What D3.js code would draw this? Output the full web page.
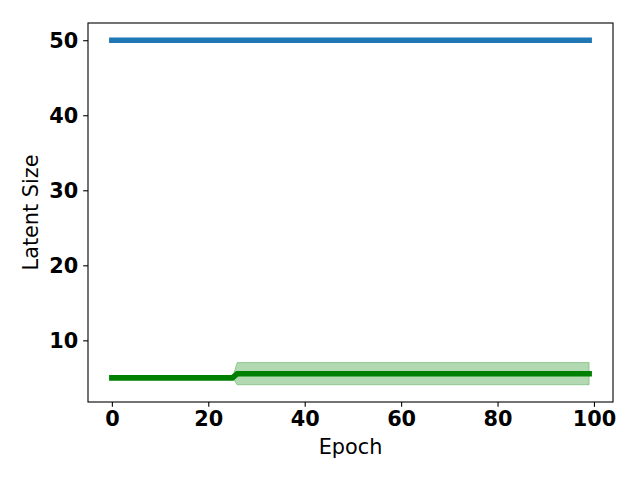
<!DOCTYPE html>
<html>
<head>
<meta charset="utf-8">
<script src="https://cdn.jsdelivr.net/npm/d3@7"></script>
<style>
  html, body { margin: 0; padding: 0; background: #fff; }
  svg { display: block; }
</style>
</head>
<body>
<script>
// ---- Data ----
const epochs = [
  0,1,2,3,4,5,6,7,8,9,
  10,11,12,13,14,15,16,17,18,19,
  20,21,22,23,24,25,26,27,28,29,
  30,31,32,33,34,35,36,37,38,39,
  40,41,42,43,44,45,46,47,48,49,
  50,51,52,53,54,55,56,57,58,59,
  60,61,62,63,64,65,66,67,68,69,
  70,71,72,73,74,75,76,77,78,79,
  80,81,82,83,84,85,86,87,88,89,
  90,91,92,93,94,95,96,97,98,99
];
const blueSize = [
  50,50,50,50,50,50,50,50,50,50,
  50,50,50,50,50,50,50,50,50,50,
  50,50,50,50,50,50,50,50,50,50,
  50,50,50,50,50,50,50,50,50,50,
  50,50,50,50,50,50,50,50,50,50,
  50,50,50,50,50,50,50,50,50,50,
  50,50,50,50,50,50,50,50,50,50,
  50,50,50,50,50,50,50,50,50,50,
  50,50,50,50,50,50,50,50,50,50,
  50,50,50,50,50,50,50,50,50,50
];
const greenMean = [
  5,5,5,5,5,5,5,5,5,5,
  5,5,5,5,5,5,5,5,5,5,
  5,5,5,5,5,5,5.56,5.56,5.56,5.56,
  5.56,5.56,5.56,5.56,5.56,5.56,5.56,5.56,5.56,5.56,
  5.56,5.56,5.56,5.56,5.56,5.56,5.56,5.56,5.56,5.56,
  5.56,5.56,5.56,5.56,5.56,5.56,5.56,5.56,5.56,5.56,
  5.56,5.56,5.56,5.56,5.56,5.56,5.56,5.56,5.56,5.56,
  5.56,5.56,5.56,5.56,5.56,5.56,5.56,5.56,5.56,5.56,
  5.56,5.56,5.56,5.56,5.56,5.56,5.56,5.56,5.56,5.56,
  5.56,5.56,5.56,5.56,5.56,5.56,5.56,5.56,5.56,5.56
];
const greenLower = [
  5,5,5,5,5,5,5,5,5,5,
  5,5,5,5,5,5,5,5,5,5,
  5,5,5,5,5,5,4.08,4.08,4.08,4.08,
  4.08,4.08,4.08,4.08,4.08,4.08,4.08,4.08,4.08,4.08,
  4.08,4.08,4.08,4.08,4.08,4.08,4.08,4.08,4.08,4.08,
  4.08,4.08,4.08,4.08,4.08,4.08,4.08,4.08,4.08,4.08,
  4.08,4.08,4.08,4.08,4.08,4.08,4.08,4.08,4.08,4.08,
  4.08,4.08,4.08,4.08,4.08,4.08,4.08,4.08,4.08,4.08,
  4.08,4.08,4.08,4.08,4.08,4.08,4.08,4.08,4.08,4.08,
  4.08,4.08,4.08,4.08,4.08,4.08,4.08,4.08,4.08,4.08
];
const greenUpper = [
  5,5,5,5,5,5,5,5,5,5,
  5,5,5,5,5,5,5,5,5,5,
  5,5,5,5,5,5,7.04,7.04,7.04,7.04,
  7.04,7.04,7.04,7.04,7.04,7.04,7.04,7.04,7.04,7.04,
  7.04,7.04,7.04,7.04,7.04,7.04,7.04,7.04,7.04,7.04,
  7.04,7.04,7.04,7.04,7.04,7.04,7.04,7.04,7.04,7.04,
  7.04,7.04,7.04,7.04,7.04,7.04,7.04,7.04,7.04,7.04,
  7.04,7.04,7.04,7.04,7.04,7.04,7.04,7.04,7.04,7.04,
  7.04,7.04,7.04,7.04,7.04,7.04,7.04,7.04,7.04,7.04,
  7.04,7.04,7.04,7.04,7.04,7.04,7.04,7.04,7.04,7.04
];
const xTicks = [0, 20, 40, 60, 80, 100];
const yTicks = [10, 20, 30, 40, 50];
const xLabel = "Epoch";
const yLabel = "Latent Size";

// ---- Layout ----
const W = 640, H = 480;
const L = 88, R = 613, T = 23, B = 402;
const FONT = "'DejaVu Sans', sans-serif";

const svg = d3.select("body").append("svg").attr("width", W).attr("height", H);

// Matplotlib-like 5% margins
const xMin = d3.min(epochs), xMax = d3.max(epochs);
const xPad = (xMax - xMin) * 0.05;
const yMin = d3.min([d3.min(blueSize), d3.min(greenLower), d3.min(greenMean)]);
const yMax = d3.max([d3.max(blueSize), d3.max(greenUpper), d3.max(greenMean)]);
const yPad = (yMax - yMin) * 0.05;

const x = d3.scaleLinear().domain([xMin - xPad, xMax + xPad]).range([L, R]);
const y = d3.scaleLinear().domain([yMin - yPad, yMax + yPad]).range([B, T]);

const plot = svg.append("g");

// blue line
const lineBlue = d3.line().x((d, i) => x(epochs[i])).y(d => y(d));
plot.append("path")
  .datum(blueSize)
  .attr("d", lineBlue)
  .attr("fill", "none")
  .attr("stroke", "#1f77b4")
  .attr("stroke-width", 5.56)
  .attr("stroke-linecap", "square");

// green band
const area = d3.area()
  .x((d, i) => x(epochs[i]))
  .y0((d, i) => y(greenLower[i]))
  .y1((d, i) => y(greenUpper[i]));
plot.append("path")
  .datum(greenMean)
  .attr("d", area)
  .attr("fill", "green")
  .attr("fill-opacity", 0.3)
  .attr("stroke", "green")
  .attr("stroke-opacity", 0.3)
  .attr("stroke-width", 1);

// green line
plot.append("path")
  .datum(greenMean)
  .attr("d", lineBlue)
  .attr("fill", "none")
  .attr("stroke", "green")
  .attr("stroke-width", 5.56)
  .attr("stroke-linecap", "square");

// ---- Axes ----
const xAxis = d3.axisBottom(x).tickValues(xTicks).tickSize(4.86).tickPadding(4.2).tickFormat(d3.format("d"));
const yAxis = d3.axisLeft(y).tickValues(yTicks).tickSize(4.86).tickPadding(4.86).tickFormat(d3.format("d"));

const gx = svg.append("g").attr("transform", `translate(0,${B})`).call(xAxis);
const gy = svg.append("g").attr("transform", `translate(${L},0)`).call(yAxis);

[gx, gy].forEach(g => {
  g.select(".domain").remove();
  g.selectAll(".tick line").attr("stroke", "#000").attr("stroke-width", 1.1);
  g.selectAll(".tick text")
    .attr("fill", "#000")
    .style("font-family", FONT)
    .style("font-size", "20.8px")
    .style("font-weight", "bold");
});
gx.selectAll(".tick text").attr("dy", "0.71em");
gy.selectAll(".tick text").attr("dy", "0.36em");

// spines
svg.append("rect")
  .attr("x", L).attr("y", T)
  .attr("width", R - L).attr("height", B - T)
  .attr("fill", "none")
  .attr("stroke", "#000")
  .attr("stroke-width", 1.1);

// axis labels
svg.append("text")
  .attr("x", (L + R) / 2)
  .attr("y", 454)
  .attr("text-anchor", "middle")
  .style("font-family", FONT)
  .style("font-size", "20.8px")
  .attr("fill", "#000")
  .text(xLabel);

svg.append("text")
  .attr("transform", `translate(38,${(T + B) / 2}) rotate(-90)`)
  .attr("text-anchor", "middle")
  .style("font-family", FONT)
  .style("font-size", "20.8px")
  .attr("fill", "#000")
  .text(yLabel);
</script>
</body>
</html>
